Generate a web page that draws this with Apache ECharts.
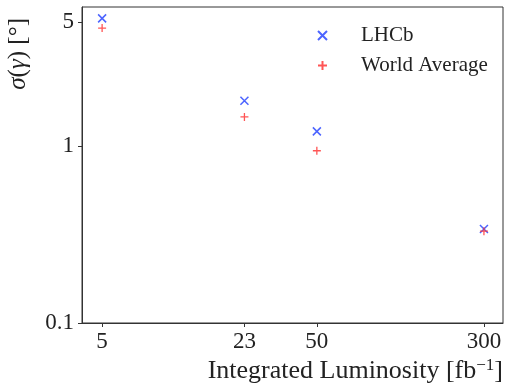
<!DOCTYPE html>
<html>
<head>
<meta charset="utf-8">
<script src="https://cdn.jsdelivr.net/npm/echarts@6/dist/echarts.min.js"></script>
<style>
  html, body { margin: 0; padding: 0; background: #fff; }
  #chart { width: 507px; height: 387px; }
</style>
</head>
<body>
<div id="chart"></div>
<script>
// luminosity points (fb^-1)
const luminosity = [5, 23, 50, 300]
// sigma(gamma) in degrees
const lhcbValues = [5.26, 1.80, 1.21, 0.34]
const worldAvgValues = [4.64, 1.46, 0.94, 0.33]
const xTicks = [5, 23, 50, 300]
const yTicks = [0.1, 1, 5]

const serif = '"Liberation Serif", "DejaVu Serif", serif'
const crossPath = 'path://M0,0L10,10M10,0L0,10'
const plusPath = 'path://M5,0L5,10M0,5L10,5'

const chart = echarts.init(document.getElementById('chart'))

const option = {
  animation: false,
  grid: {
    left: 82,
    right: 4,
    top: 7,
    bottom: 64,
    show: true,
    borderColor: '#333',
    borderWidth: 1
  },
  legend: {
    orient: 'vertical',
    left: 312,
    top: 20,
    itemWidth: 9,
    itemHeight: 9,
    itemGap: 9,
    textStyle: {
      fontFamily: serif,
      fontSize: 21,
      color: '#222',
      padding: [0, 0, 0, 29]
    },
    data: [
      { name: 'LHCb', icon: crossPath },
      { name: 'World Average', icon: plusPath }
    ]
  },
  xAxis: {
    type: 'log',
    logBase: 10,
    min: 4.03,
    max: 368,
    name: 'Integrated Luminosity [fb{sup|−1}]',
    nameLocation: 'end',
    nameGap: 0,
    nameTextStyle: {
      fontFamily: serif,
      fontSize: 26,
      color: '#222',
      align: 'right',
      verticalAlign: 'top',
      padding: [34, 0, 0, 0],
      rich: {
        sup: { fontFamily: serif, fontSize: 17, verticalAlign: 'bottom', padding: [0, 0, 12, 0], color: '#222' }
      }
    },
    axisLine: { show: true, lineStyle: { color: '#333', width: 1 } },
    axisTick: { show: true, length: 4, customValues: xTicks, lineStyle: { color: '#333' } },
    axisLabel: {
      customValues: xTicks,
      fontFamily: serif,
      fontSize: 23,
      color: '#222',
      margin: 7,
      formatter: (v) => String(Math.round(v))
    },
    splitLine: { show: false },
    minorTick: { show: false }
  },
  yAxis: {
    type: 'log',
    logBase: 10,
    min: 0.1,
    max: 6.1,
    name: '{i|σ}({i|γ}) [°]',
    nameLocation: 'end',
    nameRotate: 90,
    nameGap: 0,
    nameTextStyle: {
      fontFamily: serif,
      fontSize: 25,
      color: '#222',
      align: 'right',
      verticalAlign: 'bottom',
      padding: [0, 11, 51, 0],
      rich: {
        i: { fontFamily: serif, fontSize: 25, fontStyle: 'italic', color: '#222' }
      }
    },
    axisLine: { show: true, lineStyle: { color: '#333', width: 1 } },
    axisTick: { show: true, length: 4, customValues: yTicks, lineStyle: { color: '#333' } },
    axisLabel: {
      customValues: yTicks,
      fontFamily: serif,
      fontSize: 23,
      color: '#222',
      margin: 8,
      formatter: (v) => (v < 1 ? '0.1' : String(Math.round(v)))
    },
    splitLine: { show: false },
    minorTick: { show: false }
  },
  series: [
    {
      name: 'LHCb',
      type: 'scatter',
      symbol: crossPath,
      symbolSize: 8,
      itemStyle: { color: 'rgba(0,0,0,0)', borderColor: '#1f3dff', borderWidth: 1.5 },
      data: luminosity.map((x, i) => [x, lhcbValues[i]])
    },
    {
      name: 'World Average',
      type: 'scatter',
      symbol: plusPath,
      symbolSize: 8,
      itemStyle: { color: 'rgba(0,0,0,0)', borderColor: '#ff2a2a', borderWidth: 1.3 },
      data: luminosity.map((x, i) => [x, worldAvgValues[i]])
    }
  ]
}

chart.setOption(option)
</script>
</body>
</html>
